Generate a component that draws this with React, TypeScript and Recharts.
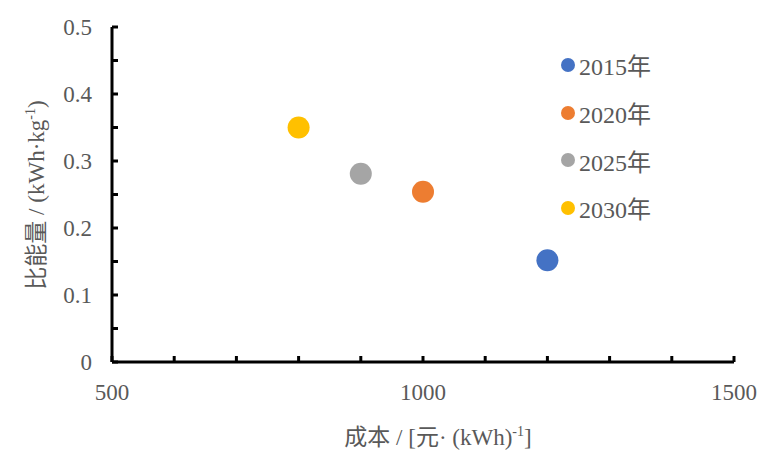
import React from 'react';
import { ScatterChart, Scatter, XAxis, YAxis } from 'recharts';

const years = ['2015年', '2020年', '2025年', '2030年'];
const costs = [1200, 1000, 900, 800];
const energies = [0.152, 0.254, 0.281, 0.35];
const colors = ['#4472C4', '#ED7D31', '#A5A5A5', '#FFC000'];

const xTicks = [500, 600, 700, 800, 900, 1000, 1100, 1200, 1300, 1400, 1500];
const yTicks = [0, 0.05, 0.1, 0.15, 0.2, 0.25, 0.3, 0.35, 0.4, 0.45, 0.5];
const xLabelled = [500, 1000, 1500];

const FONT = '"Liberation Serif", "Times New Roman", "Noto Sans CJK SC", serif';
const TEXT = '#595959';
const TICK_GAP_Y = 20;
const TICK_GAP_X = 30;

function YTick(props: any) {
  const { x, y, payload } = props;
  const v = payload.value;
  const lineX = x + TICK_GAP_Y;
  const labelled = Math.round(v * 100) % 10 === 0;
  return (
    <g>
      <line x1={lineX} x2={lineX + 6} y1={y} y2={y} stroke="#000" strokeWidth={3} />
      {labelled && (
        <text x={x} y={y} dy="0.35em" textAnchor="end" fill={TEXT} fontSize={23} fontFamily={FONT}>
          {v === 0 ? '0' : v.toFixed(1)}
        </text>
      )}
    </g>
  );
}

function XTick(props: any) {
  const { x, y, payload } = props;
  const v = payload.value;
  return (
    <g>
      <line x1={x} x2={x} y1={y} y2={y - 6} stroke="#000" strokeWidth={3} />
      {xLabelled.includes(v) && (
        <text x={x} y={y + TICK_GAP_X} dy="0.35em" textAnchor="middle" fill={TEXT} fontSize={23} fontFamily={FONT}>
          {v}
        </text>
      )}
    </g>
  );
}

function XTitle(props: any) {
  const { viewBox } = props;
  const cx = viewBox.x + viewBox.width / 2 + 15;
  return (
    <text x={cx} y={445} textAnchor="middle" fill={TEXT} fontSize={23} fontFamily={FONT}>
      成本 / [元· (kWh)
      <tspan dy={-9} fontSize={14}>-1</tspan>
      <tspan dy={9}>]</tspan>
    </text>
  );
}

function YTitle() {
  return (
    <text
      x={0}
      y={0}
      transform="translate(44,195) rotate(-90)"
      textAnchor="middle"
      fill={TEXT}
      fontSize={23}
      fontFamily={FONT}
    >
      比能量 / (kWh·kg
      <tspan dy={-9} fontSize={14}>-1</tspan>
      <tspan dy={9}>)</tspan>
    </text>
  );
}

function LegendBox() {
  return (
    <div
      style={{
        position: 'absolute',
        left: 561,
        top: 41,
        fontFamily: FONT,
        fontSize: 24,
        color: TEXT,
      }}
    >
      {years.map((yr, i) => (
        <div key={yr} style={{ display: 'flex', alignItems: 'center', height: 47.7 }}>
          <span
            style={{
              display: 'inline-block',
              width: 14,
              height: 14,
              borderRadius: 7,
              background: colors[i],
              marginRight: 4,
            }}
          />
          <span>{yr}</span>
        </div>
      ))}
    </div>
  );
}

export default function App() {
  return (
    <div style={{ position: 'absolute', left: 0, top: 0, width: 773, height: 464, background: '#fff' }}>
      <ScatterChart width={773} height={464} margin={{ top: 27, right: 39, left: 52, bottom: 62 }}>
        <XAxis
          type="number"
          dataKey="x"
          domain={[500, 1500]}
          ticks={xTicks}
          interval={0}
          tickSize={0}
          tickMargin={0}
          tick={<XTick />}
          axisLine={{ stroke: '#000', strokeWidth: 3 }}
          height={40}
          label={<XTitle />}
        />
        <YAxis
          type="number"
          dataKey="y"
          domain={[0, 0.5]}
          ticks={yTicks}
          interval={0}
          tickSize={0}
          tickMargin={TICK_GAP_Y}
          tick={<YTick />}
          axisLine={{ stroke: '#000', strokeWidth: 3 }}
          width={60}
          label={<YTitle />}
        />
        {years.map((yr, i) => (
          <Scatter
            key={yr}
            name={yr}
            data={[{ x: costs[i], y: energies[i] }]}
            fill={colors[i]}
            isAnimationActive={false}
            shape={(p: any) => <circle cx={p.cx} cy={p.cy} r={11} fill={colors[i]} />}
          />
        ))}
      </ScatterChart>
      <LegendBox />
    </div>
  );
}
